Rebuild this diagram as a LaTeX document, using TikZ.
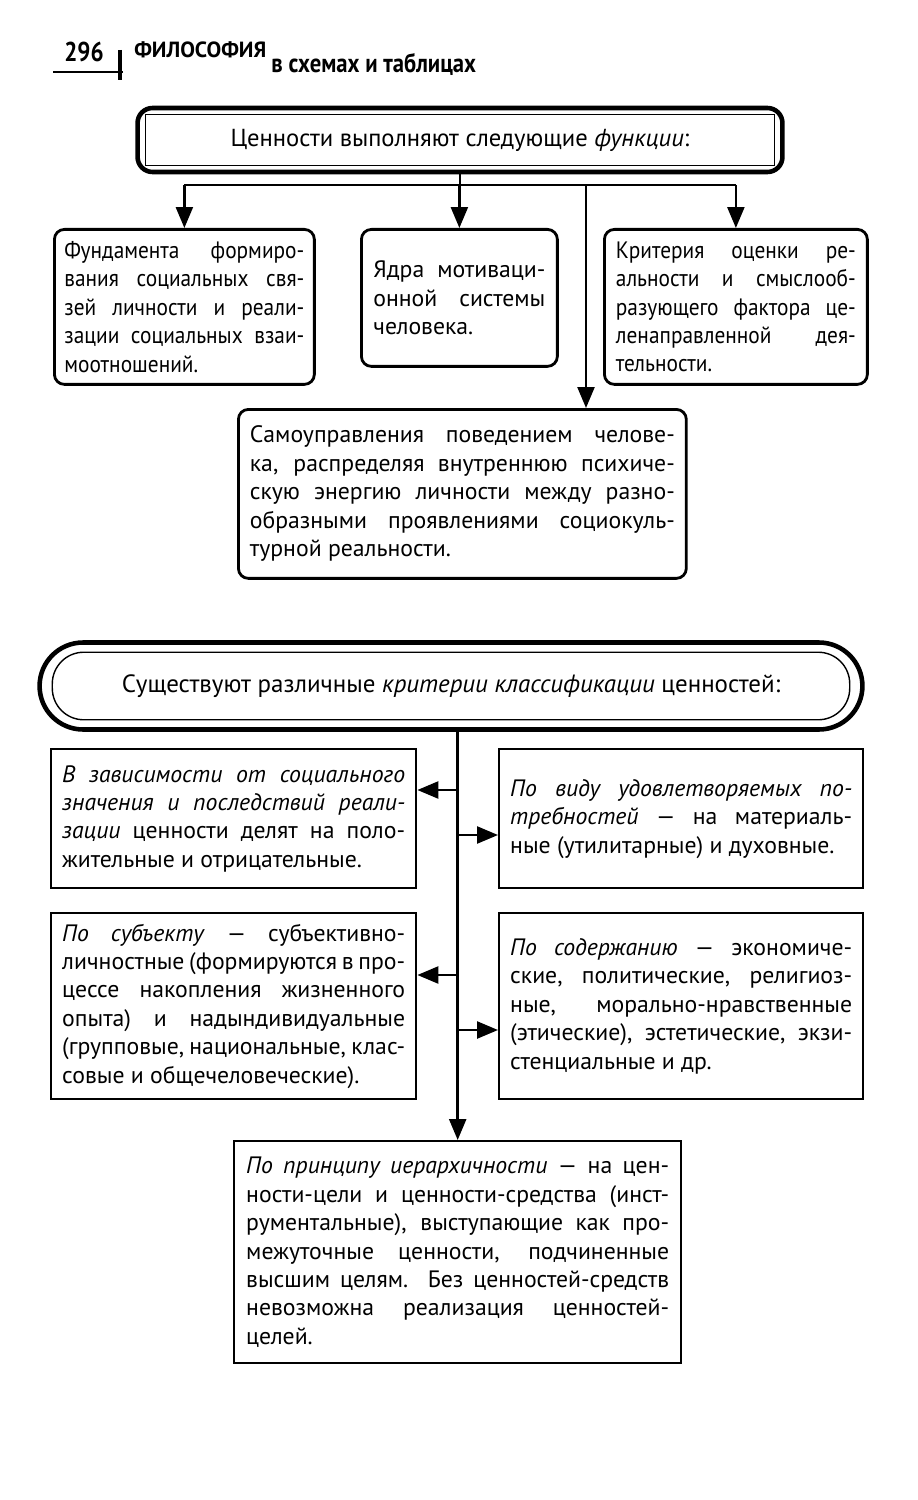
\documentclass[tikz,border=0pt]{standalone}
\usepackage{fontspec}
\setmainfont{PT Sans}
\usepackage{tikz}
\usetikzlibrary{arrows.meta,positioning,calc}

\begin{document}
\begin{tikzpicture}[
    x=0.02cm, y=-0.02cm,
    font=\fontsize{13.5}{16.2}\selectfont,
    narrow/.style={font=\fontsize{13.5}{16.2}\selectfont\addfontfeature{FakeStretch=0.9}},
    heading/.style={rectangle, draw, line width=2.6pt, rounded corners=0.3cm, minimum width=12.9cm, minimum height=1.28cm, inner sep=0pt, font=\fontsize{14}{16}\selectfont},
    pill/.style={rectangle, draw, line width=2.6pt, rounded corners=0.87cm, minimum width=16.46cm, minimum height=1.74cm, inner sep=0pt, font=\fontsize{14.2}{16}\selectfont},
    funcbox/.style={rectangle, draw, line width=1.6pt, rounded corners=0.2cm, anchor=north west, inner sep=0pt, align=justify},
    critbox/.style={rectangle, draw, line width=1.4pt, anchor=north west, inner sep=0pt, align=justify},
    link/.style={line width=1.4pt},
    arrow/.style={link, -{Triangle[length=0.42cm, width=0.34cm]}}
]
    \useasboundingbox (0,0) rectangle (917,1500);

    % Page header
    \node[anchor=base west, inner sep=0pt, font=\bfseries\fontsize{15.5}{16}\selectfont\addfontfeature{FakeStretch=0.85}] (pagenum) at (64,62) {296};
    \node[anchor=base west, inner sep=0pt, font=\bfseries\fontsize{12.5}{12}\selectfont] (booktitle) at (134,58) {ФИЛОСОФИЯ};
    \node[anchor=base west, inner sep=0pt, font=\bfseries\fontsize{15}{15}\selectfont\addfontfeature{FakeStretch=0.86}] (subtitle) at (271,73) {в схемах и таблицах};
    \draw[line width=1.4pt] (53,72) -- (123,72);
    \draw[line width=2.4pt] (120,50) -- (120,80);

    % Functions of values
    \node[heading] (values) at (460,140) {Ценности выполняют следующие \textit{функции}:};
    \draw[line width=0.8pt] ([xshift=0.2cm,yshift=-0.18cm]values.north west) rectangle ([xshift=-0.2cm,yshift=0.18cm]values.south east);

    \node[funcbox, narrow, minimum width=5.2cm, minimum height=3.1cm, text width=4.8cm] (basis) at (53,228)
        {Фундамента формиро-\linebreak вания социальных свя-\linebreak зей личности и реали-\linebreak зации социальных взаи-\linebreak моотношений.};
    \node[funcbox, minimum width=3.92cm, minimum height=2.74cm, text width=3.44cm] (core) at (360,228)
        {Ядра мотиваци-\linebreak онной системы\linebreak человека.};
    \node[funcbox, narrow, minimum width=5.26cm, minimum height=3.1cm, text width=4.8cm] (criterion) at (603,228)
        {Критерия оценки ре-\linebreak альности и смыслооб-\linebreak разующего фактора це-\linebreak ленаправленной дея-\linebreak тельности.};
    \node[funcbox, minimum width=8.96cm, minimum height=3.38cm, text width=8.5cm] (selfrule) at (237,408)
        {Самоуправления поведением челове-\linebreak ка, распределяя внутреннюю психиче-\linebreak скую энергию личности между разно-\linebreak образными проявлениями социокуль-\linebreak турной реальности.};

    % Arrows
    \coordinate (bar) at (0,185);
    \coordinate (fork) at (586,185);
    \draw[link] (values.south) -- (values.south |- bar);
    \draw[link] (basis.north |- bar) -- (criterion.north |- bar);
    \draw[arrow] (basis.north |- bar) -- (basis.north);
    \draw[arrow] (core.north |- bar) -- (core.north);
    \draw[arrow] (criterion.north |- bar) -- (criterion.north);
    \draw[arrow] (fork) -- (fork |- selfrule.north);

    % Criteria of classification
    \node[pill] (criteria) at (451,686) {Существуют различные \textit{критерии классификации} ценностей:};
    \draw[line width=0.8pt, rounded corners=0.63cm] ([xshift=0.3cm,yshift=-0.24cm]criteria.north west) rectangle ([xshift=-0.3cm,yshift=0.24cm]criteria.south east);

    \node[critbox, minimum width=7.3cm, minimum height=2.78cm, text width=6.86cm] (social) at (50,748)
        {\textit{В зависимости от социального\linebreak значения и последствий реали-\linebreak зации} ценности делят на поло-\linebreak жительные и отрицательные.};
    \node[critbox, minimum width=7.28cm, minimum height=2.78cm, text width=6.84cm] (needs) at (498,748)
        {\textit{По виду удовлетворяемых по-\linebreak требностей} — на материаль-\linebreak ные (утилитарные) и духовные.};
    \node[critbox, minimum width=7.3cm, minimum height=3.72cm, text width=6.86cm] (subject) at (50,912)
        {\textit{По субъекту} — субъективно-\linebreak личностные (формируются в про-\linebreak цессе накопления жизненного\linebreak опыта) и надындивидуальные\linebreak (групповые, национальные, клас-\linebreak совые и общечеловеческие).};
    \node[critbox, minimum width=7.28cm, minimum height=3.72cm, text width=6.84cm] (content) at (498,912)
        {\textit{По содержанию} — экономиче-\linebreak ские, политические, религиоз-\linebreak ные, морально-нравственные\linebreak (этические), эстетические, экзи-\linebreak стенциальные и др.};
    \node[critbox, minimum width=8.94cm, minimum height=4.44cm, text width=8.46cm] (hierarchy) at (233,1140)
        {\textit{По принципу иерархичности} — на цен-\linebreak ности-цели и ценности-средства (инст-\linebreak рументальные), выступающие как про-\linebreak межуточные ценности, подчиненные\linebreak высшим целям. Без ценностей-средств\linebreak невозможна реализация ценностей-\linebreak целей.};

    % Trunk and branches
    \coordinate (t1) at (456.5,790);
    \coordinate (t2) at (456.5,835);
    \coordinate (t3) at (456.5,975);
    \coordinate (t4) at (456.5,1030);
    \draw[arrow] (criteria.south -| hierarchy.north) -- (hierarchy.north);
    \draw[arrow] (t1) -- (t1 -| social.east);
    \draw[arrow] (t2) -- (t2 -| needs.west);
    \draw[arrow] (t3) -- (t3 -| subject.east);
    \draw[arrow] (t4) -- (t4 -| content.west);
\end{tikzpicture}
\end{document}
